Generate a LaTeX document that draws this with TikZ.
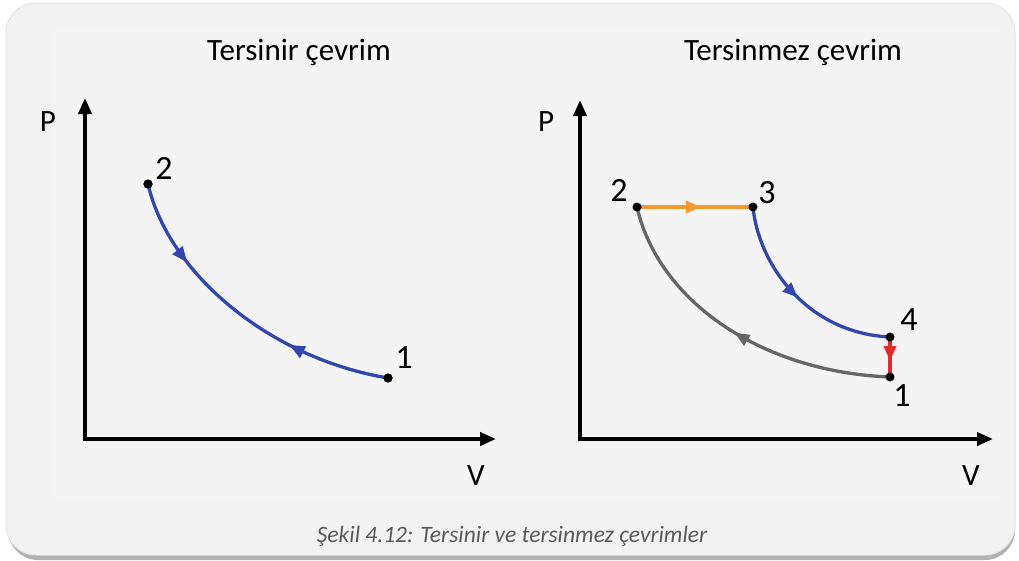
\documentclass[tikz,border=0pt]{standalone}
\usepackage{fontspec}
\setmainfont{Carlito}
\usetikzlibrary{arrows.meta,decorations.markings}
\definecolor{boxbg}{HTML}{F2F2F2}
\definecolor{boxedge}{HTML}{E4E4E4}
\definecolor{inner}{HTML}{F4F4F4}
\definecolor{cblue}{HTML}{3246AE}
\definecolor{corange}{HTML}{F39A2E}
\definecolor{cgray}{HTML}{666666}
\definecolor{cred}{HTML}{E52A2A}
\definecolor{captxt}{HTML}{5A5A5A}
\tikzset{
  axis/.style={line width=3.8pt,-{Triangle[length=16pt,width=13pt]}},
  curve/.style={line width=3.3pt},
  pt/.style={circle,fill=black,inner sep=0pt,minimum size=9pt},
  lbl/.style={font=\fontsize{34}{34}\selectfont,inner sep=0pt},
  axlbl/.style={font=\fontsize{31}{31}\selectfont,inner sep=0pt},
  title/.style={font=\fontsize{31}{31}\selectfont,inner sep=0pt},
  midarrow/.style={postaction={decorate},decoration={markings,mark=at position #1 with {\arrow{Triangle[length=15pt,width=12pt]}}}},
  midarrowrev/.style={postaction={decorate},decoration={markings,mark=at position #1 with {\arrowreversed{Triangle[length=15pt,width=12pt]}}}}
}
\begin{document}
\begin{tikzpicture}[x=1pt,y=-1pt]
\useasboundingbox (0,0) rectangle (1019,560);
\fill[white] (0,0) rectangle (1019,560);
% shadow and frame
\fill[gray!60,rounded corners=30pt] (8,30) rectangle (1015,560);
\fill[boxbg,draw=boxedge,line width=1pt,rounded corners=30pt] (6,3) rectangle (1015,555);
\fill[inner] (55,28) rectangle (1000,500);
% titles
\node[title] (t1) at (299,52) {Tersinir çevrim};
\node[title] (t2) at (793,52) {Tersinmez çevrim};
% left axes
\coordinate (ytip1) at (85,98);
\coordinate (xtip1) at (496,439);
\draw[axis] (85,441) -- (ytip1);
\draw[axis] (83,439) -- (xtip1);
\node[axlbl] (P1) at (48,122) {P};
\node[axlbl] (V1) at (476,476) {V};
% right axes
\coordinate (ytip2) at (580,100);
\coordinate (xtip2) at (993,439);
\draw[axis] (580,441) -- (ytip2);
\draw[axis] (578,439) -- (xtip2);
\node[axlbl] (P2) at (546,122) {P};
\node[axlbl] (V2) at (971,476) {V};
% left curve
\node[pt] (a2) at (148,184) {};
\node[pt] (a1) at (388,378) {};
\draw[cblue,curve,midarrow=0.27,midarrowrev=0.68] (a2.center) .. controls (168,272) and (268,358) .. (a1.center);
\node[pt] at (a2) {};
\node[pt] at (a1) {};
\node[lbl] (la2) at (164,168) {2};
\node[lbl] (la1) at (404,358) {1};
% right cycle
\coordinate (b2) at (637,207);
\coordinate (b3) at (753,207);
\coordinate (b4) at (890,337);
\coordinate (b1) at (890,377);
\draw[cgray,curve,midarrowrev=0.5] (b2) .. controls (658,300) and (760,372) .. (b1);
\draw[corange,curve,midarrow=0.55] (b2) -- (b3);
\draw[cblue,curve,midarrow=0.5] (b3) .. controls (758,262) and (805,333) .. (b4);
\draw[cred,curve,midarrow=0.6] (b4) -- (b1);
\node[pt] (d2) at (b2) {};
\node[pt] (d3) at (b3) {};
\node[pt] (d4) at (b4) {};
\node[pt] (d1) at (b1) {};
\node[lbl] (lb2) at (619,190) {2};
\node[lbl] (lb3) at (767,193) {3};
\node[lbl] (lb4) at (909,320) {4};
\node[lbl] (lb1) at (902,396) {1};
% caption
\node[font=\fontsize{23.5}{24}\selectfont\itshape,text=captxt,inner sep=0pt] (cap) at (512,536) {Şekil 4.12: Tersinir ve tersinmez çevrimler};
\end{tikzpicture}
\end{document}
